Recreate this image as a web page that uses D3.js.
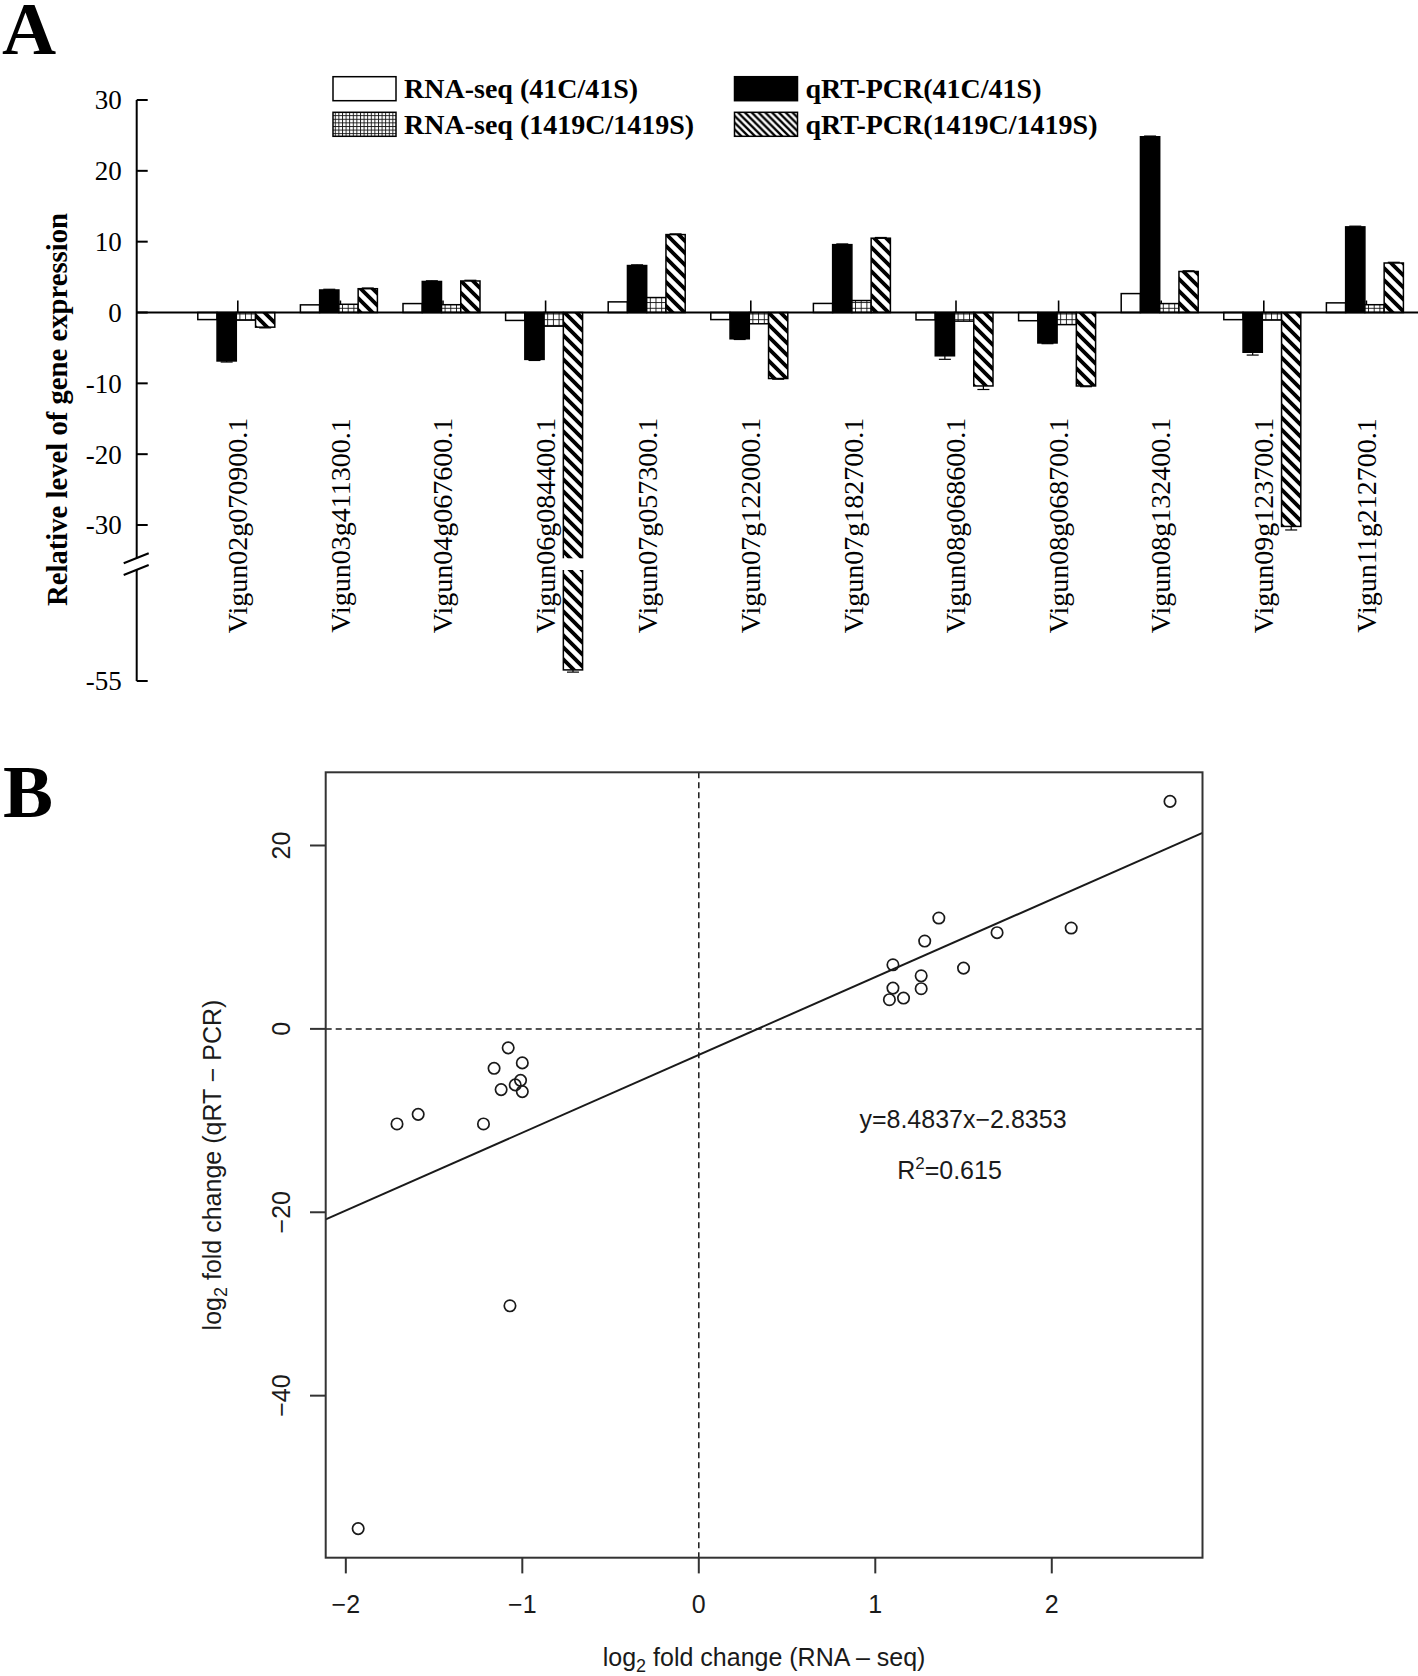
<!DOCTYPE html>
<html><head><meta charset="utf-8">
<script src="https://cdn.jsdelivr.net/npm/d3@7"></script>
<style>body{margin:0;background:#fff}svg{display:block}</style>
</head><body>
<svg id="chart" width="1418" height="1676"></svg>
<script>
// ---------------- data ----------------
const genes = ["Vigun02g070900.1","Vigun03g411300.1","Vigun04g067600.1","Vigun06g084400.1",
  "Vigun07g057300.1","Vigun07g122000.1","Vigun07g182700.1","Vigun08g068600.1",
  "Vigun08g068700.1","Vigun08g132400.1","Vigun09g123700.1","Vigun11g212700.1"];
const rnaSeq41   = [-1.00, 1.08, 1.26, -1.12, 1.50, -1.00, 1.28, -1.04, -1.16, 2.67, -1.01, 1.36];
const qrtPcr41   = [-6.84, 3.18, 4.38, -6.62, 6.63, -3.71, 9.58, -6.11, -4.30, 24.81, -5.61, 12.09];
const rnaSeq1419 = [-1.08, 1.16, 1.10, -1.93, 2.11, -1.59, 1.69, -1.22, -1.71, 1.26, -1.07, 1.10];
const qrtPcr1419 = [-2.07, 3.36, 4.45, -54.5, 11.00, -9.32, 10.49, -10.37, -10.37, 5.79, -30.2, 6.99];
const qrtErr41   = [0.15, 0.1, 0.1, 0.15, 0.1, 0.1, 0.1, 0.5, 0.1, 0.1, 0.4, 0.1];
const qrtErr1419 = [0.1, 0.1, 0.1, 0.1, 0.1, 0.1, 0.1, 0.5, 0.1, 0.1, 0.5, 0.1];
const seriesNames = ["RNA-seq (41C/41S)", "qRT-PCR(41C/41S)", "RNA-seq (1419C/1419S)", "qRT-PCR(1419C/1419S)"];
const yTicksA = [30, 20, 10, 0, -10, -20, -30, -55];
const xTicksB = [-2, -1, 0, 1, 2];
const yTicksB = [-40, -20, 0, 20];
const regSlope = 8.4837, regIntercept = -2.8353, rSquared = 0.615;

// ---------------- setup ----------------
const serif = "'Liberation Serif','Times New Roman',serif";
const sans = "'Liberation Sans',Arial,Helvetica,sans-serif";
const svg = d3.select("#chart");
svg.append("rect").attr("width", 1418).attr("height", 1676).attr("fill", "#fff");
const defs = svg.append("defs");
function gridPattern(id, p) {
  const pg = defs.append("pattern").attr("id", id).attr("patternUnits", "userSpaceOnUse")
    .attr("width", p).attr("height", p);
  pg.append("rect").attr("width", p).attr("height", p).attr("fill", "#fff");
  pg.append("path").attr("d", `M0,0.5H${p}M0.5,0V${p}`).attr("stroke", "#111").attr("stroke-width", 0.9);
}
function hatchPattern(id, p, sw) {
  const ph = defs.append("pattern").attr("id", id).attr("patternUnits", "userSpaceOnUse")
    .attr("width", p).attr("height", p);
  ph.append("rect").attr("width", p).attr("height", p).attr("fill", "#fff");
  ph.append("path").attr("d", `M0,0L${p},${p}M-3,${p - 3}L3,${p + 3}M${p - 3},-3L${p + 3},3`)
    .attr("stroke", "#000").attr("stroke-width", sw);
}
gridPattern("gridPat", 5.7);
gridPattern("gridPatL", 3.6);
hatchPattern("hatchPat", 12, 3.8);
hatchPattern("hatchPatL", 6.8, 2.3);

const fills = ["#fff", "#000", "url(#gridPat)", "url(#hatchPat)"];
const legendFills = ["#fff", "#000", "url(#gridPatL)", "url(#hatchPatL)"];
const seriesValues = [rnaSeq41, qrtPcr41, rnaSeq1419, qrtPcr1419];
const seriesErr = [null, qrtErr41, null, qrtErr1419];

// ---------------- panel A ----------------
const gA = svg.append("g");
gA.append("text").attr("x", 2).attr("y", 54).attr("font-family", serif).attr("font-weight", "bold")
  .attr("font-size", 75).text("A");

const breakTop = -34.7, breakBottom = -50;
const yA = d3.scaleLinear().domain([30, breakTop, breakBottom, -55]).range([100, 558.3, 570, 681]);
const xA = d3.scalePoint().domain(genes).range([237.8, 1366.4]);
const inner = d3.scaleBand().domain(d3.range(4)).range([-40, 37]);
const axisX = 136.7;
const labelCenterY = 525.5;

// y axis with break
gA.append("line").attr("x1", axisX).attr("x2", axisX).attr("y1", yA(30)).attr("y2", yA(breakTop))
  .attr("stroke", "#000").attr("stroke-width", 2);
gA.append("line").attr("x1", axisX).attr("x2", axisX).attr("y1", yA(breakBottom)).attr("y2", yA(-55))
  .attr("stroke", "#000").attr("stroke-width", 2);
[breakTop, breakBottom].forEach(v => {
  gA.append("line").attr("x1", axisX - 13).attr("x2", axisX + 12)
    .attr("y1", yA(v) + 5).attr("y2", yA(v) - 5).attr("stroke", "#000").attr("stroke-width", 2);
});
yTicksA.forEach(t => {
  gA.append("line").attr("x1", axisX).attr("x2", axisX + 11).attr("y1", yA(t)).attr("y2", yA(t))
    .attr("stroke", "#000").attr("stroke-width", 2);
  gA.append("text").attr("x", axisX - 15).attr("y", yA(t)).attr("dy", "0.35em")
    .attr("text-anchor", "end").attr("font-family", serif).attr("font-size", 27).text(t);
});
gA.append("text").attr("transform", `translate(66.7,409.5) rotate(-90)`).attr("text-anchor", "middle")
  .attr("font-family", serif).attr("font-weight", "bold").attr("font-size", 28.7)
  .text("Relative level of gene expression");

// group ticks
genes.forEach(g => {
  gA.append("line").attr("x1", xA(g)).attr("x2", xA(g)).attr("y1", yA(0)).attr("y2", yA(0) - 12)
    .attr("stroke", "#000").attr("stroke-width", 1.6);
});

// bars
genes.forEach((g, i) => {
  seriesValues.forEach((vals, s) => {
    const v = vals[i];
    const x = xA(g) + inner(s), w = inner.bandwidth();
    const y0 = yA(Math.max(0, v)), y1 = yA(Math.min(0, v));
    gA.append("rect").attr("x", x).attr("y", y0).attr("width", w).attr("height", y1 - y0)
      .attr("fill", fills[s]).attr("stroke", "#000").attr("stroke-width", 1.5);
    if (v < breakTop) {
      gA.append("rect").attr("x", x - 2).attr("width", w + 4)
        .attr("y", yA(breakTop)).attr("height", yA(breakBottom) - yA(breakTop)).attr("fill", "#fff");
    }
    if (seriesErr[s]) {
      const e = seriesErr[s][i];
      const end = v + Math.sign(v) * e;
      const cx = x + w / 2;
      gA.append("line").attr("x1", cx).attr("x2", cx).attr("y1", yA(v)).attr("y2", yA(end))
        .attr("stroke", "#000").attr("stroke-width", 1.2);
      gA.append("line").attr("x1", cx - 6).attr("x2", cx + 6).attr("y1", yA(end)).attr("y2", yA(end))
        .attr("stroke", "#000").attr("stroke-width", 1.2);
    }
  });
});
// zero line
gA.append("line").attr("x1", axisX).attr("x2", 1418).attr("y1", yA(0)).attr("y2", yA(0))
  .attr("stroke", "#000").attr("stroke-width", 2);

// gene labels
genes.forEach(g => {
  gA.append("text").attr("transform", `translate(${xA(g)},${labelCenterY}) rotate(-90)`)
    .attr("text-anchor", "middle").attr("dy", "0.33em")
    .attr("font-family", serif).attr("font-size", 28).text(g);
});

// legend
const legendCols = [333, 734.5], legendRows = [76.7, 112.3];
[0, 1, 2, 3].forEach(s => {
  const col = s % 2 === 0 ? 0 : 1;
  const row = s < 2 ? 0 : 1;
  const lx = legendCols[col], ly = legendRows[row];
  gA.append("rect").attr("x", lx).attr("y", ly).attr("width", 63).attr("height", 24)
    .attr("fill", legendFills[s]).attr("stroke", "#000").attr("stroke-width", 1.5);
  gA.append("text").attr("x", lx + 71).attr("y", ly + 21.5).attr("font-family", serif)
    .attr("font-weight", "bold").attr("font-size", 28).text(seriesNames[s]);
});

// ---------------- panel B ----------------
const gB = svg.append("g");
gB.append("text").attr("x", 3).attr("y", 817).attr("font-family", serif).attr("font-weight", "bold")
  .attr("font-size", 75).text("B");

const xs = rnaSeq41.concat(rnaSeq1419), ys = qrtPcr41.concat(qrtPcr1419);
const pad = e => { const r = e[1] - e[0]; return [e[0] - 0.04 * r, e[1] + 0.04 * r]; };
const box = {l: 325.7, r: 1202.5, t: 772.3, b: 1557.7};
const xB = d3.scaleLinear().domain(pad(d3.extent(xs))).range([box.l, box.r]);
const yB = d3.scaleLinear().domain(pad(d3.extent(ys))).range([box.b, box.t]);
const ink = "#1a1a1a";

// dashed reference lines
gB.append("line").attr("x1", xB(0)).attr("x2", xB(0)).attr("y1", box.t).attr("y2", box.b)
  .attr("stroke", ink).attr("stroke-width", 1.5).attr("stroke-dasharray", "6,4");
gB.append("line").attr("x1", box.l).attr("x2", box.r).attr("y1", yB(0)).attr("y2", yB(0))
  .attr("stroke", ink).attr("stroke-width", 1.5).attr("stroke-dasharray", "6,4");

// regression line
const xd = xB.domain();
gB.append("line").attr("x1", xB(xd[0])).attr("x2", xB(xd[1]))
  .attr("y1", yB(regSlope * xd[0] + regIntercept)).attr("y2", yB(regSlope * xd[1] + regIntercept))
  .attr("stroke", ink).attr("stroke-width", 2);

// points
gB.selectAll("circle.pt").data(xs.map((x, i) => [x, ys[i]])).enter().append("circle")
  .attr("class", "pt").attr("cx", d => xB(d[0])).attr("cy", d => yB(d[1])).attr("r", 5.7)
  .attr("fill", "none").attr("stroke", ink).attr("stroke-width", 1.7);

// box
gB.append("rect").attr("x", box.l).attr("y", box.t).attr("width", box.r - box.l).attr("height", box.b - box.t)
  .attr("fill", "none").attr("stroke", "#333").attr("stroke-width", 2);

// axes
const minus = t => String(t).replace("-", "\u2212");
xTicksB.forEach(t => {
  gB.append("line").attr("x1", xB(t)).attr("x2", xB(t)).attr("y1", box.b).attr("y2", box.b + 15.7)
    .attr("stroke", "#333").attr("stroke-width", 2);
  gB.append("text").attr("x", xB(t)).attr("y", 1612.7).attr("text-anchor", "middle")
    .attr("font-family", sans).attr("font-size", 25).attr("fill", ink).text(minus(t));
});
yTicksB.forEach(t => {
  gB.append("line").attr("x1", box.l - 15.7).attr("x2", box.l).attr("y1", yB(t)).attr("y2", yB(t))
    .attr("stroke", "#333").attr("stroke-width", 2);
  gB.append("text").attr("transform", `translate(290,${yB(t)}) rotate(-90)`).attr("text-anchor", "middle")
    .attr("font-family", sans).attr("font-size", 25).attr("fill", ink).text(minus(t));
});

// axis titles
const xt = gB.append("text").attr("x", (box.l + box.r) / 2).attr("y", 1666).attr("text-anchor", "middle")
  .attr("font-family", sans).attr("font-size", 25).attr("fill", ink);
xt.append("tspan").text("log");
xt.append("tspan").attr("font-size", 18).attr("dy", 6).text("2");
xt.append("tspan").attr("dy", -6).text(" fold change (RNA \u2013 seq)");

const yt = gB.append("text").attr("transform", `translate(221,${(box.t + box.b) / 2}) rotate(-90)`)
  .attr("text-anchor", "middle").attr("font-family", sans).attr("font-size", 25).attr("fill", ink);
yt.append("tspan").text("log");
yt.append("tspan").attr("font-size", 18).attr("dy", 6).text("2");
yt.append("tspan").attr("dy", -6).text(" fold change (qRT \u2212 PCR)");

// equation annotation
gB.append("text").attr("x", 963).attr("y", 1128).attr("text-anchor", "middle")
  .attr("font-family", sans).attr("font-size", 25).attr("fill", ink)
  .text(`y=${regSlope}x\u2212${Math.abs(regIntercept)}`);
const rt = gB.append("text").attr("x", 949.5).attr("y", 1179.3).attr("text-anchor", "middle")
  .attr("font-family", sans).attr("font-size", 25).attr("fill", ink);
rt.append("tspan").text("R");
rt.append("tspan").attr("font-size", 17).attr("dy", -10).text("2");
rt.append("tspan").attr("dy", 10).text(`=${rSquared}`);
</script>
</body></html>
